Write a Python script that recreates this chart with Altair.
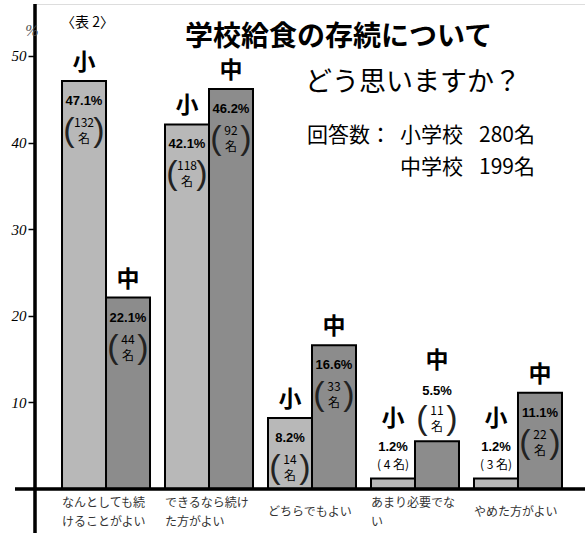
import altair as alt
import pandas as pd

# ---- data ----
categories = ["なんとしても続\nけることがよい", "できるなら続け\nた方がよい", "どちらでもよい",
              "あまり必要でな\nい", "やめた方がよい"]
schools = ["小", "中"]
elem_pct = [47.1, 42.1, 8.2, 1.2, 1.2]
elem_n = [132, 118, 14, 4, 3]
mid_pct = [22.1, 46.2, 16.6, 5.5, 11.1]
mid_n = [44, 92, 33, 11, 22]
y_ticks = [10, 20, 30, 40, 50]

title1 = "学校給食の存続について"
title2 = "どう思いますか？"
resp_head = "回答数："
resp_schools = ["小学校", "中学校"]
resp_counts = ["280名", "199名"]
table_no = "〈表 2〉"
unit = "%"

rows = []
for i, c in enumerate(categories):
    for s, pcts, ns in (("小", elem_pct, elem_n), ("中", mid_pct, mid_n)):
        v = pcts[i]
        n = ns[i]
        mode = "in" if v >= 8 else ("up1" if n < 10 else "up2")
        cnt = f"( {n} 名)" if n < 10 else f"{n}\n名"
        rows.append(dict(cat=c, school=s, value=v, n=n, pct=f"{v}%", cnt=cnt, mode=mode))
df = pd.DataFrame(rows)

W, H = 550, 485
XSCALE = alt.Scale(paddingInner=0.1456, paddingOuter=0.2428, align=0.54)
X = alt.X("cat:N", sort=categories, axis=None, scale=XSCALE)
XO = alt.XOffset("school:N", sort=schools, scale=alt.Scale(paddingInner=0, paddingOuter=0))
YS = alt.Scale(domain=[0, 56], nice=False, zero=True)
Y = alt.Y("value:Q", scale=YS,
          axis=alt.Axis(values=y_ticks, title=None, grid=False, domain=False,
                        ticks=True, tickSize=7, tickColor="black", tickWidth=1.5,
                        labelFont="Liberation Serif", labelFontSize=15,
                        labelFontStyle="italic", labelPadding=2, labelColor="black"))

bars = alt.Chart(df).mark_bar(stroke="black", strokeWidth=2).encode(
    x=X, xOffset=XO, y=Y,
    color=alt.Color("school:N", sort=schools, legend=None,
                    scale=alt.Scale(domain=schools, range=["#b8b8b8", "#8c8c8c"])),
)


def txt(modes, dy, size, field=None, literal=None, weight="normal",
        font="Liberation Sans", dx=0, color="black", lh=16):
    base = alt.Chart(df).transform_filter(alt.FieldOneOfPredicate(field="mode", oneOf=modes))
    m = base.mark_text(dy=dy, dx=dx, fontSize=size, fontWeight=weight, font=font,
                       baseline="middle", align="center", lineBreak="\n",
                       lineHeight=lh, color=color)
    t = alt.Text(f"{field}:N") if field else alt.value(literal)
    return m.encode(x=X, xOffset=XO, y=Y, text=t)


layers = [bars]
# school labels 小 / 中
layers += [txt(["in"], -18, 23, field="school", weight="bold", font="Noto Sans CJK JP"),
           txt(["up1"], -60, 23, field="school", weight="bold", font="Noto Sans CJK JP"),
           txt(["up2"], -80, 23, field="school", weight="bold", font="Noto Sans CJK JP")]
# percent labels
layers += [txt(["in"], 20, 13, field="pct", weight="bold"),
           txt(["up1"], -32, 13, field="pct", weight="bold"),
           txt(["up2"], -50, 13, field="pct", weight="bold")]
# count labels (first line at dy; following lines below)
layers += [txt(["in"], 42, 12, field="cnt", font="Noto Sans CJK JP"),
           txt(["up1"], -14, 12, field="cnt", font="Noto Sans CJK JP"),
           txt(["up2"], -30, 12, field="cnt", font="Noto Sans CJK JP")]
# tall parentheses around two-line counts
layers += [txt(["in"], 50, 34, literal="(", dx=-15, color="#222"),
           txt(["in"], 50, 34, literal=")", dx=15, color="#222"),
           txt(["up2"], -22, 34, literal="(", dx=-15, color="#222"),
           txt(["up2"], -22, 34, literal=")", dx=15, color="#222")]

# category labels under the baseline
cat_df = pd.DataFrame({"cat": categories})
XC = alt.X("cat:N", sort=categories, axis=None, bandPosition=0, scale=XSCALE)
for expr, yy in (("indexof(datum.cat, '\\n') >= 0", H + 14),
                 ("indexof(datum.cat, '\\n') < 0", H + 23)):
    layers.append(alt.Chart(cat_df).transform_filter(expr).mark_text(
        align="left", baseline="middle", lineBreak="\n", lineHeight=19,
        fontSize=12, font="Noto Sans CJK JP", color="#333"
    ).encode(x=XC, y=alt.value(yy), text="cat:N"))

# vertical axis line (extends below baseline) and the baseline
layers.append(alt.Chart(cat_df).mark_rule(color="black", strokeWidth=2.5).encode(
    x=alt.value(0), y=alt.value(0), y2=alt.value(H + 44)))
layers.append(alt.Chart(cat_df).mark_rule(color="black", strokeWidth=2.5).encode(
    x=alt.value(-20), x2=alt.value(W), y=alt.value(H)))


def ann(text, x, y, size, weight="normal", font="Noto Sans CJK JP", style="normal",
        color="black", align="left"):
    return alt.Chart(pd.DataFrame({"t": [text]})).mark_text(
        align=align, baseline="middle", fontSize=size, fontWeight=weight, font=font,
        fontStyle=style, color=color
    ).encode(x=alt.value(x), y=alt.value(y), text="t:N")


layers += [ann(title1, 150, 34, 28, weight="bold"),
           ann(title2, 270, 79, 27),
           ann(resp_head, 272, 132, 21),
           ann(resp_schools[0], 365, 132, 21),
           ann(resp_counts[0], 444, 132, 21),
           ann(resp_schools[1], 365, 164, 21),
           ann(resp_counts[1], 444, 164, 21),
           ann(table_no, 26, 19, 14),
           ann(unit, -3, 27, 16, font="Liberation Serif", style="italic", color="#555",
               align="center")]

chart = alt.layer(*layers).properties(
    width=W, height=H,
    autosize=alt.AutoSizeParams(type="none"),
    padding={"left": 35, "top": 4, "right": 0, "bottom": 44},
).configure_view(stroke=None).configure(background="white")

chart.save("out.html", embed_options={"renderer": "svg", "actions": False})
